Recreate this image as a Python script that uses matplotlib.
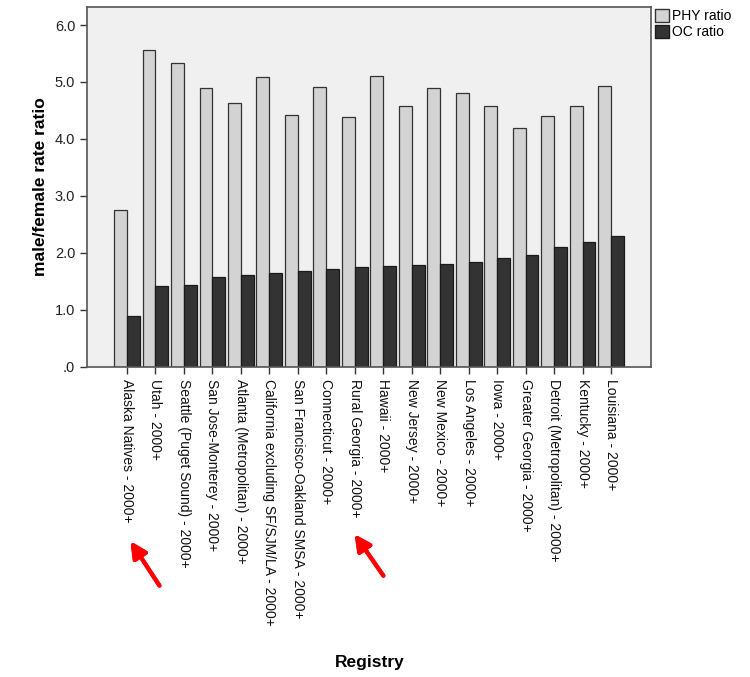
import matplotlib.pyplot as plt
import numpy as np
from matplotlib.patches import Patch

plt.rcParams['font.family'] = ['Liberation Sans', 'DejaVu Sans']

# Registries, sorted by OC ratio as in the original chart
registries = [
    'Alaska Natives - 2000+', 'Utah - 2000+', 'Seattle (Puget Sound) - 2000+',
    'San Jose-Monterey - 2000+', 'Atlanta (Metropolitan) - 2000+',
    'California excluding SF/SJM/LA - 2000+', 'San Francisco-Oakland SMSA - 2000+',
    'Connecticut - 2000+', 'Rural Georgia - 2000+', 'Hawaii - 2000+',
    'New Jersey - 2000+', 'New Mexico - 2000+', 'Los Angeles - 2000+',
    'Iowa - 2000+', 'Greater Georgia - 2000+', 'Detroit (Metropolitan) - 2000+',
    'Kentucky - 2000+', 'Louisiana - 2000+',
]
phy_ratio = [2.75, 5.57, 5.34, 4.90, 4.64, 5.08, 4.42, 4.92, 4.39, 5.10,
             4.58, 4.89, 4.80, 4.58, 4.19, 4.40, 4.57, 4.93]
oc_ratio = [0.89, 1.42, 1.43, 1.58, 1.62, 1.65, 1.69, 1.71, 1.75, 1.77,
            1.79, 1.81, 1.84, 1.92, 1.96, 2.10, 2.20, 2.30]
y_ticks = [0, 1, 2, 3, 4, 5, 6]
y_ticklabels = ['.0', '1.0', '2.0', '3.0', '4.0', '5.0', '6.0']

fig = plt.figure(figsize=(7.5, 6.77), dpi=100)
ax = fig.add_axes([0.116, 0.458, 0.752, 0.532])
ax.set_facecolor('#f0f0f0')

x = np.arange(len(registries))
width = 0.45
ax.bar(x - width / 2, phy_ratio, width, color='#d3d3d3', edgecolor='#333333', linewidth=0.9)
ax.bar(x + width / 2, oc_ratio, width, color='#333333', edgecolor='#1a1a1a', linewidth=0.9)

ax.set_xlim(-1.4, len(registries) + 0.4)
ax.set_ylim(0, 6.32)
ax.set_yticks(y_ticks)
ax.set_yticklabels(y_ticklabels, fontsize=10.5, color='#222222')
ax.set_xticks(x)
ax.set_xticklabels(registries, rotation=270, fontsize=10, color='#111111', va='top', ha='center')
ax.tick_params(axis='both', direction='out', length=5, width=1, color='#333333')
for s in ax.spines.values():
    s.set_color('#555555')
    s.set_linewidth(1.2)

ax.set_ylabel('male/female rate ratio', fontsize=12.5, fontweight='bold', labelpad=5)
fig.text(0.493, 0.022, 'Registry', fontsize=12.5, fontweight='bold', ha='center', va='center')

handles = [Patch(facecolor='#d3d3d3', edgecolor='#333333', label='PHY ratio'),
           Patch(facecolor='#333333', edgecolor='#1a1a1a', label='OC ratio')]
fig.legend(handles=handles, loc='upper left', bbox_to_anchor=(0.866, 0.995), frameon=False,
           fontsize=10, handlelength=1.0, handleheight=1.1, handletextpad=0.2,
           labelspacing=0.1, borderaxespad=0)

# red arrows pointing at two registries
arrow = dict(arrowstyle='-|>', color='#ff0000', lw=3, mutation_scale=24)
fig.add_artist(plt.annotate('', xy=(129 / 750, 1 - 539 / 677), xytext=(161 / 750, 1 - 588 / 677),
                            xycoords='figure fraction', arrowprops=arrow))
fig.add_artist(plt.annotate('', xy=(353 / 750, 1 - 532 / 677), xytext=(385 / 750, 1 - 578 / 677),
                            xycoords='figure fraction', arrowprops=arrow))

fig.savefig('out.png', dpi=100)
